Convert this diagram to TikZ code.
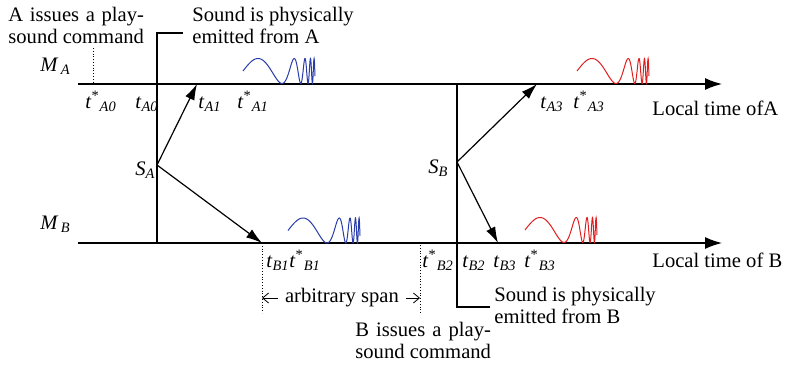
\documentclass[tikz,border=0pt]{standalone}
\usepackage{fontspec}
\setmainfont{Liberation Serif}
\usetikzlibrary{arrows.meta}
\definecolor{wblue}{RGB}{40,60,170}
\definecolor{wred}{RGB}{225,30,30}
\newlength\cmdw
\newcommand{\tsub}[1]{\textit{t}\textsubscript{\textit{#1}}}
\newcommand{\tstar}[1]{\textit{t}\textsuperscript{*}\textsubscript{\textit{#1}}}
% chirp: #1 left x, #2 centre y, #3 colour
\newcommand{\chirp}[3]{\draw[#3,line width=0.5pt] plot[domain=0:72,samples=400]
  ({#1+\x},{#2-12.5*sin(deg(0.101*\x+0.016*(exp(0.1*\x)-1)))});}

\begin{document}
\begin{tikzpicture}[x=0.5pt,y=-0.5pt,font=\fontsize{10.3}{11}\selectfont]
  \tikzstyle{lbl}=[anchor=base west,inner sep=0pt]
  \tikzstyle{txt}=[anchor=base west,inner sep=0pt,align=left]
  \tikzstyle{axis}=[line width=0.7pt,-{Latex[length=8.5pt,width=6pt]}]
  \tikzstyle{msg}=[line width=0.6pt,-{Latex[length=8pt,width=5pt]}]
  \tikzstyle{guide}=[densely dotted,line width=0.4pt]
  \useasboundingbox (0,0) rectangle (785,364);

  % time lines
  \coordinate (ma0) at (78,84);   \coordinate (ma1) at (722,84);
  \coordinate (mb0) at (78,243);  \coordinate (mb1) at (722,243);
  \draw[axis] (ma0) -- (ma1);
  \draw[axis] (mb0) -- (mb1);
  \node[lbl] (ma) at (40,71) {\textit{M}\textsubscript{\,\textit{A}}};
  \node[lbl] (mb) at (40,229) {\textit{M}\textsubscript{\,\textit{B}}};
  \node[lbl] (loca) at (652,115) {Local time ofA};
  \node[lbl] (locb) at (652,267) {Local time of B};

  % emission of A
  \coordinate (emA) at (183,33);
  \coordinate (xa) at (157,243);
  \coordinate (sa) at (157,165);
  \draw[line width=0.7pt] (emA) -| (xa);
  \coordinate (tA1) at (197,84);
  \coordinate (tB1) at (262,243);
  \draw[msg] (sa) -- (tA1);
  \draw[msg] (sa) -- (tB1);
  \node[lbl] (lsa) at (135,175) {\textit{S}\textsubscript{\textit{A}}};

  % emission of B
  \coordinate (xb) at (457,84);
  \coordinate (emB) at (490,307);
  \coordinate (sb) at (457,162);
  \draw[line width=0.7pt] (xb) |- (emB);
  \coordinate (tA3) at (537,84);
  \coordinate (tB3) at (498,243);
  \draw[msg] (sb) -- (tA3);
  \draw[msg] (sb) -- (tB3);
  \node[lbl] (lsb) at (428,173) {\textit{S}\textsubscript{\textit{B}}};

  % dotted guides
  \coordinate (gA0) at (93,48);  \coordinate (dA0) at (93,84);
  \coordinate (dB1) at (262,313);
  \coordinate (gB2) at (420,245); \coordinate (dB2) at (420,313);
  \draw[guide] (gA0) -- (dA0);
  \draw[guide] (tB1) -- (dB1);
  \draw[guide] (gB2) -- (dB2);

  % time stamps
  \node[lbl] (lA0s) at (85,108)  {\tstar{A0}};
  \node[lbl] (lA0)  at (135,108) {\tsub{A0}};
  \node[lbl] (lA1)  at (198,108) {\tsub{A1}};
  \node[lbl] (lA1s) at (237,108) {\tstar{A1}};
  \node[lbl] (lA3)  at (540,108) {\tsub{A3}};
  \node[lbl] (lA3s) at (573,108) {\tstar{A3}};
  \node[lbl] (lB1)  at (266,267) {\tsub{B1}};
  \node[lbl] (lB1s) at (289,267) {\tstar{B1}};
  \node[lbl] (lB2s) at (422,267) {\tstar{B2}};
  \node[lbl] (lB2)  at (462,267) {\tsub{B2}};
  \node[lbl] (lB3)  at (493,267) {\tsub{B3}};
  \node[lbl] (lB3s) at (524,267) {\tstar{B3}};

  % sounds
  \chirp{243}{71}{wblue}
  \chirp{577}{71}{wred}
  \chirp{288}{230.5}{wblue}
  \chirp{525}{230}{wred}

  % span
  \node (span) at (342,298) {arbitrary span};
  \draw[-{Straight Barb[length=3pt,width=5pt]},line width=0.4pt] (span.west) -- (span.west -| dB1);
  \draw[-{Straight Barb[length=3pt,width=5pt]},line width=0.4pt] (span.east) -- (span.east -| dB2);

  % notes
  \node[txt] (issA) at (8,43) {\settowidth{\cmdw}{sound command}\makebox[\cmdw][s]{A issues a play-}\\sound command};
  \node[txt] (sndA) at (192,43) {Sound is physically\\emitted from A};
  \node[txt] (issB) at (355,358) {\settowidth{\cmdw}{sound command}\makebox[\cmdw][s]{B issues a play-}\\sound command};
  \node[txt] (sndB) at (494,323) {Sound is physically\\emitted from B};
\end{tikzpicture}
\end{document}
